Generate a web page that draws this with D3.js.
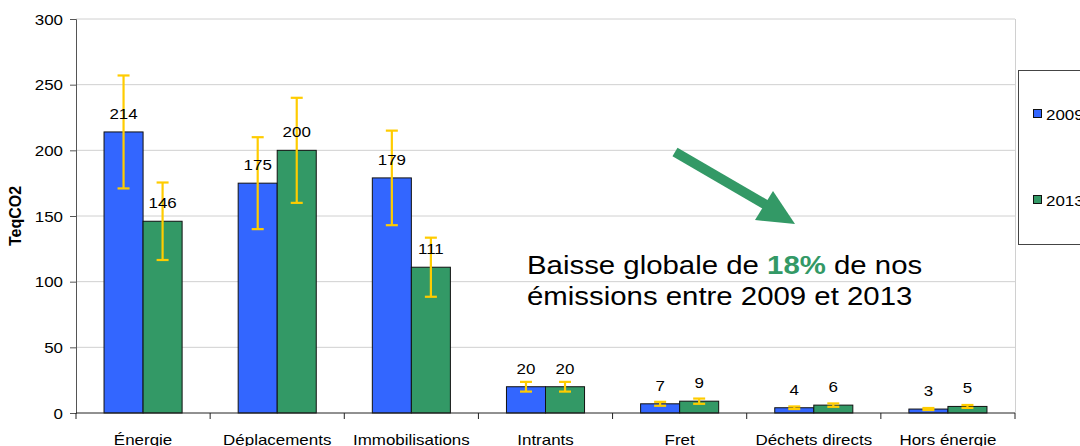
<!DOCTYPE html>
<html lang="fr">
  <head>
    <meta charset="UTF-8" />
    <title>Émissions TeqCO2</title>
    <script src="https://cdn.jsdelivr.net/npm/d3@7.6.1/dist/d3.min.js"></script>
    <style>
      body { margin: 0; background: #fff; }
      svg { display: block; font-family: 'Liberation Sans', Arial, sans-serif; }
    </style>
  </head>
  <body>
    <div id="box"></div>
    <script>
      // données
      const categories = ['Énergie', 'Déplacements', 'Immobilisations', 'Intrants', 'Fret', 'Déchets directs', 'Hors énergie'];
      const years = ['2009', '2013'];
      const values2009 = [214, 175, 179, 20, 7, 4, 3];
      const values2013 = [146, 200, 111, 20, 9, 6, 5];
      // demi-largeur des barres d'erreur
      const err2009 = [43, 35, 36, 3.7, 1.5, 1, 0.8];
      const err2013 = [29.5, 40, 22.5, 3.7, 2, 1.3, 1.1];
      const yTicks = [0, 50, 100, 150, 200, 250, 300];

      const width = 1080;
      const height = 446;
      const margin = {left: 76, right: 65, top: 19, bottom: 33};
      const colors = ['#3366FF', '#339966'];
      const sx = 1.13; // le texte de l'original est un peu étiré en largeur

      const svg = d3.select('#box').append('svg').attr('width', width).attr('height', height);

      // étire un texte horizontalement autour de son point d'ancrage
      function stretch(sel) {
        sel.each(function () {
          const t = d3.select(this);
          const tx = +t.attr('x') || 0;
          const ty = +t.attr('y') || 0;
          t.attr('x', 0).attr('y', 0)
            .attr('transform', `translate(${tx},${ty}) scale(${sx},1)`);
        });
      }

      const x = d3.scaleBand()
        .domain(categories)
        .range([margin.left, width - margin.right])
        .paddingInner(0.418)
        .paddingOuter(0.209);
      const xStep = x.step();
      const xSub = d3.scaleBand().domain(years).range([0, x.bandwidth()]);

      const y = d3.scaleLinear()
        .domain([0, 300])
        .range([height - margin.bottom, margin.top]);

      // grille
      svg.append('g')
        .selectAll('line')
        .data(yTicks.slice(1))
        .join('line')
        .attr('x1', margin.left)
        .attr('x2', width - margin.right)
        .attr('y1', d => y(d))
        .attr('y2', d => y(d))
        .attr('stroke', '#d0d0d0')
        .attr('stroke-width', 1);
      // bord droit de la zone de tracé
      svg.append('line')
        .attr('x1', width - margin.right + 0.5)
        .attr('x2', width - margin.right + 0.5)
        .attr('y1', margin.top)
        .attr('y2', y(0))
        .attr('stroke', '#d0d0d0');

      // axe Y
      const yAxis = d3.axisLeft(y).tickValues(yTicks).tickSize(6).tickPadding(0);
      const gy = svg.append('g')
        .attr('transform', `translate(${margin.left},0)`)
        .call(yAxis);
      gy.select('.domain').attr('stroke', '#555');
      gy.selectAll('.tick line').attr('stroke', '#555');
      gy.selectAll('text')
        .attr('font-size', 15)
        .attr('fill', '#000')
        .attr('font-family', 'Liberation Sans, Arial, sans-serif')
        .attr('x', -13)
        .attr('dy', '0.35em')
        .call(stretch);

      svg.append('text')
        .attr('transform', `translate(21,${(y(0) + y(300)) / 2}) rotate(-90)`)
        .attr('text-anchor', 'middle')
        .attr('font-size', 16)
        .attr('font-weight', 'bold')
        .text('TeqCO2');

      // barres
      const series = [values2009, values2013];
      const errors = [err2009, err2013];
      const rows = [];
      categories.forEach((c, i) => {
        years.forEach((yr, j) => {
          rows.push({cat: c, year: yr, j, value: series[j][i], err: errors[j][i]});
        });
      });

      svg.append('g')
        .selectAll('rect')
        .data(rows)
        .join('rect')
        .attr('x', d => x(d.cat) + xSub(d.year))
        .attr('y', d => y(d.value))
        .attr('width', xSub.bandwidth())
        .attr('height', d => y(0) - y(d.value))
        .attr('fill', d => colors[d.j])
        .attr('stroke', '#111')
        .attr('stroke-width', 1);

      // axe X
      const gx = svg.append('g').attr('transform', `translate(0,${y(0)})`);
      gx.append('line')
        .attr('x1', margin.left)
        .attr('x2', width - margin.right)
        .attr('stroke', '#222');
      gx.selectAll('.tk')
        .data(d3.range(categories.length + 1))
        .join('line')
        .attr('class', 'tk')
        .attr('x1', i => margin.left + i * xStep)
        .attr('x2', i => margin.left + i * xStep)
        .attr('y1', 0)
        .attr('y2', 6)
        .attr('stroke', '#222');
      gx.selectAll('text')
        .data(categories)
        .join('text')
        .attr('x', d => x(d) + x.bandwidth() / 2)
        .attr('y', 32)
        .attr('text-anchor', 'middle')
        .attr('font-size', 15)
        .text(d => d)
        .call(stretch);

      // barres d'erreur
      const eg = svg.append('g').attr('stroke', '#FFCC00').attr('stroke-width', 2.2);
      const cx = d => x(d.cat) + xSub(d.year) + xSub.bandwidth() / 2;
      eg.selectAll('.v').data(rows).join('line').attr('class', 'v')
        .attr('x1', cx).attr('x2', cx)
        .attr('y1', d => y(d.value + d.err)).attr('y2', d => y(d.value - d.err));
      ['top', 'bot'].forEach(k => {
        eg.selectAll('.' + k).data(rows).join('line').attr('class', k)
          .attr('x1', d => cx(d) - 6).attr('x2', d => cx(d) + 6)
          .attr('y1', d => y(k === 'top' ? d.value + d.err : d.value - d.err))
          .attr('y2', d => y(k === 'top' ? d.value + d.err : d.value - d.err));
      });

      // étiquettes de valeur
      svg.append('g')
        .selectAll('text')
        .data(rows)
        .join('text')
        .attr('x', cx)
        .attr('y', d => y(d.value) - 13)
        .attr('text-anchor', 'middle')
        .attr('font-size', 15)
        .text(d => d.value)
        .call(stretch);

      // légende
      const lg = svg.append('g');
      lg.append('rect')
        .attr('x', 1018.5).attr('y', 70.5)
        .attr('width', 80).attr('height', 174)
        .attr('fill', '#fff').attr('stroke', '#444');
      years.forEach((yr, j) => {
        const yy = j === 0 ? 114 : 200;
        lg.append('rect')
          .attr('x', 1033.5).attr('y', yy - 4.5)
          .attr('width', 8).attr('height', 8)
          .attr('fill', colors[j]).attr('stroke', '#111');
        lg.append('text')
          .attr('x', 1046).attr('y', yy + 5.5)
          .attr('font-size', 15)
          .text(yr)
          .call(stretch);
      });

      // flèche
      const arrow = svg.append('g').attr('fill', '#339966');
      arrow.append('line')
        .attr('x1', 675).attr('y1', 152)
        .attr('x2', 768).attr('y2', 206)
        .attr('stroke', '#339966').attr('stroke-width', 10);
      arrow.append('polygon')
        .attr('points', '755,220 795,224 773,191');

      // texte d'annotation
      const note = svg.append('text').attr('font-size', 26).attr('fill', '#000')
        .attr('x', 527).attr('y', 274);
      note.append('tspan').text('Baisse globale de ');
      note.append('tspan').attr('fill', '#339966').attr('font-weight', 'bold').text('18%');
      note.append('tspan').text(' de nos');
      note.call(stretch);
      svg.append('text').attr('font-size', 26).attr('x', 527).attr('y', 305)
        .text('émissions entre 2009 et 2013')
        .call(stretch);
    </script>
  </body>
</html>
